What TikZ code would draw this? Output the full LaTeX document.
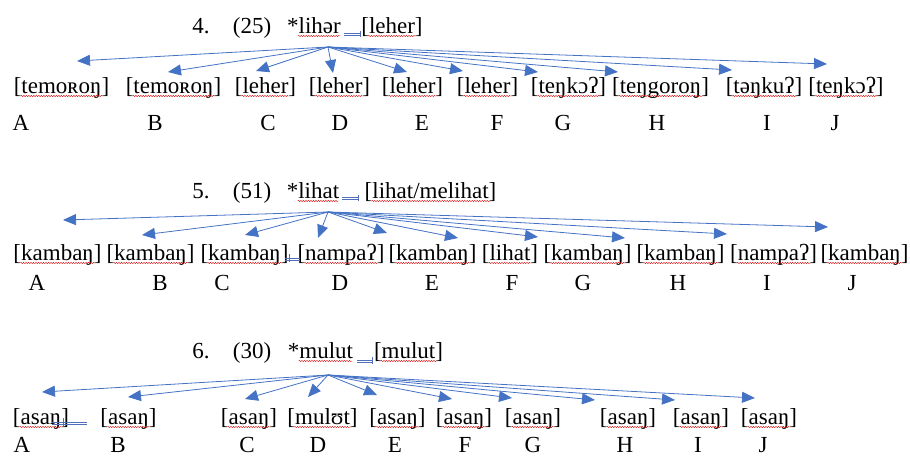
\documentclass[tikz,border=0pt]{standalone}
\usepackage{fontspec}
\setmainfont{Liberation Serif}
\usetikzlibrary{arrows.meta,decorations.pathmorphing}
\definecolor{arrblue}{RGB}{68,114,196}
\definecolor{linkblue}{RGB}{80,110,185}
\begin{document}
\begin{tikzpicture}[x=1pt,y=-1pt,
  txt/.style={font=\fontsize{23}{25}\selectfont, inner sep=0pt, anchor=base},
  arr/.style={draw=arrblue, line width=0.8pt, -{Triangle[length=13pt,width=11pt,fill=arrblue]}},
  wavy/.style={draw=red!85!black, line width=0.35pt, decorate, decoration={snake, amplitude=0.7pt, segment length=2.5pt}},
  dbl/.style={draw=linkblue, line width=0.5pt}]
\useasboundingbox (0,0) rectangle (910,458);

% ---------- row 1 ----------
\node[txt] (t1n) at (201,33) {4.};
\node[txt] (t1c) at (252,33) {(25)};
\node[txt] (t1w) at (314,33) {*lihər};
\node[txt] (t1r) at (392,33) {[leher]};

\node[txt] (w1a) at (61.5,93) {[temoʀoŋ]};
\node[txt] (w1b) at (173.5,93) {[temoʀoŋ]};
\node[txt] (w1c) at (265.5,93) {[leher]};
\node[txt] (w1d) at (339.5,93) {[leher]};
\node[txt] (w1e) at (412.5,93) {[leher]};
\node[txt] (w1f) at (487.5,93) {[leher]};
\node[txt] (w1g) at (568.5,93) {[teŋkɔʔ]};
\node[txt] (w1h) at (660.5,93) {[teŋgoroŋ]};
\node[txt] (w1i) at (764,93) {[təŋkuʔ]};
\node[txt] (w1j) at (846,93) {[teŋkɔʔ]};

\foreach \n/\x in {a/21,b/155,c/268,d/340,e/422,f/497,g/563,h/657,i/767,j/835}
  \node[txt] (l1\n) at (\x,130) {\MakeUppercase{\n}};

\coordinate (o1) at (328,47);
\foreach \n/\x/\y in {a/77/61,b/168/72,c/256/71,d/333/73,e/407/72,f/463/71,g/538/72,h/618/72,i/732/70,j/827/64}
  \coordinate (p1\n) at (\x,\y);
\foreach \n in {a,b,c,d,e,f,g,h,i,j}
  \draw[arr] (o1) -- (p1\n);

% ---------- row 2 ----------
\node[txt] (t2n) at (201,198) {5.};
\node[txt] (t2c) at (252,198) {(51)};
\node[txt] (t2w) at (313,198) {*lihat};
\node[txt] (t2r) at (430.5,198) {[lihat/melihat]};

\node[txt] (w2a) at (57.5,260) {[kambaŋ]};
\node[txt] (w2b) at (150.5,260) {[kambaŋ]};
\node[txt] (w2c) at (244.5,260) {[kambaŋ]};
\node[txt] (w2d) at (341,260) {[nampaʔ]};
\node[txt] (w2e) at (432.5,260) {[kambaŋ]};
\node[txt] (w2f) at (510,260) {[lihat]};
\node[txt] (w2g) at (587.5,260) {[kambaŋ]};
\node[txt] (w2h) at (680.5,260) {[kambaŋ]};
\node[txt] (w2i) at (773.5,260) {[nampaʔ]};
\node[txt] (w2j) at (864.5,260) {[kambaŋ]};

\foreach \n/\x in {a/37,b/160,c/222,d/340,e/432,f/512,g/583,h/678,i/767,j/852}
  \node[txt] (l2\n) at (\x,290) {\MakeUppercase{\n}};

\coordinate (o2) at (328,212);
\foreach \n/\x/\y in {a/63/220,b/142/235,c/245/235,d/318/238,e/387/233,f/458/238,g/538/237,h/625/238,i/727/234,j/828/227}
  \coordinate (p2\n) at (\x,\y);
\foreach \n in {a,b,c,d,e,f,g,h,i,j}
  \draw[arr] (o2) -- (p2\n);

% ---------- row 3 ----------
\node[txt] (t3n) at (201,358) {6.};
\node[txt] (t3c) at (252,358) {(30)};
\node[txt] (t3w) at (320.5,358) {*mulut};
\node[txt] (t3r) at (408.5,358) {[mulut]};

\node[txt] (w3a) at (41,424) {[asaŋ]};
\node[txt] (w3b) at (128.5,424) {[asaŋ]};
\node[txt] (w3c) at (249,424) {[asaŋ]};
\node[txt] (w3d) at (322.5,424) {[mulʊt]};
\node[txt] (w3e) at (397.5,424) {[asaŋ]};
\node[txt] (w3f) at (464,424) {[asaŋ]};
\node[txt] (w3g) at (533,424) {[asaŋ]};
\node[txt] (w3h) at (628,424) {[asaŋ]};
\node[txt] (w3i) at (701,424) {[asaŋ]};
\node[txt] (w3j) at (769,424) {[asaŋ]};

\foreach \n/\x in {a/22,b/118,c/247,d/318,e/395,f/465,g/533,h/625,i/698,j/763}
  \node[txt] (l3\n) at (\x,452) {\MakeUppercase{\n}};

\coordinate (o3) at (328,375);
\foreach \n/\x/\y in {a/42/392,b/128/397,c/245/399,d/308/397,e/377/395,f/452/399,g/512/398,h/595/400,i/675/400,j/755/398}
  \coordinate (p3\n) at (\x,\y);
\foreach \n in {a,b,c,d,e,f,g,h,i,j}
  \draw[arr] (o3) -- (p3\n);

% ---------- spell-check underlines ----------
\foreach \n in {w1a,w1b,w1c,w1d,w1e,w1f,w1g,w1h,w1i,w1j,
                w2a,w2b,w2c,w2d,w2e,w2f,w2g,w2h,w2i,w2j,
                w3a,w3b,w3c,w3d,w3e,w3f,w3g,w3h,w3i,w3j,t1r,t2r,t3r}
  \draw[wavy] ([xshift=7pt,yshift=-3pt]\n.base west) -- ([xshift=-7pt,yshift=-3pt]\n.base east);
\foreach \n in {t1w,t2w,t3w}
  \draw[wavy] ([xshift=11pt,yshift=-3pt]\n.base west) -- ([xshift=-1pt,yshift=-3pt]\n.base east);

% ---------- small double-line marks ----------
\draw[dbl] (344,33) -- (361,33) (344,35.2) -- (361,35.2) (360,31) -- (360,37);
\draw[dbl] (342,197) -- (359,197) (342,199.2) -- (359,199.2) (358,195) -- (358,201);
\draw[dbl] (285,258) -- (300,258) (285,260.2) -- (300,260.2) (289,254) -- (289,262);
\draw[dbl] (357,360) -- (373,360) (357,362.2) -- (373,362.2) (372,357) -- (372,364);
\draw[dbl] (52,422) -- (87,422) (52,424.2) -- (87,424.2) (63,418) -- (63,426);
\end{tikzpicture}
\end{document}
